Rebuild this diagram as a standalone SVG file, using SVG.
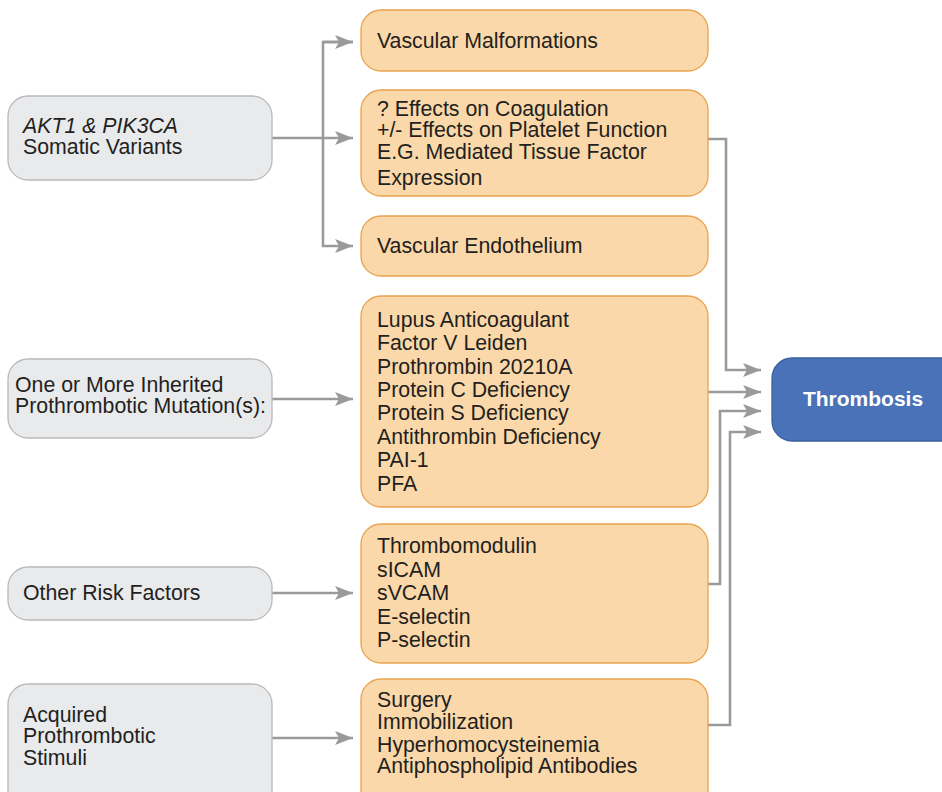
<svg xmlns="http://www.w3.org/2000/svg" width="942" height="792" viewBox="0 0 942 792">
<defs>
<style>
.g{fill:#e9eaec;stroke:#b9b9bb;stroke-width:1.3}
.o{fill:#fad8a9;stroke:#e9a24c;stroke-width:1.3}
.b{fill:#4a72b8;stroke:#39609f;stroke-width:1.3}
text{font-family:"Liberation Sans",Arial,sans-serif;font-size:21.3px;fill:#231f20}
.it{font-style:italic}
.w{fill:#fff;font-weight:bold;font-size:21px}
.c{fill:none;stroke:#999a9c;stroke-width:2.6}
</style>
<marker id="ah" markerWidth="18" markerHeight="14" viewBox="0 0 18 14" refX="18" refY="7" orient="auto" markerUnits="userSpaceOnUse">
<path d="M0,0 L18,7 L0,14 L4,7 Z" fill="#999a9c"/>
</marker>
</defs>

<g id="connectors">
<path class="c" d="M272,138 H353" marker-end="url(#ah)"/>
<path class="c" d="M353,42 H323 V246 H353" marker-end="url(#ah)"/>
<path class="c" d="M323,42 H353" marker-end="url(#ah)"/>
<path class="c" d="M272,399 H353" marker-end="url(#ah)"/>
<path class="c" d="M272,593 H353" marker-end="url(#ah)"/>
<path class="c" d="M272,738 H353" marker-end="url(#ah)"/>
<path class="c" d="M708,139 H726 V370 H761" marker-end="url(#ah)"/>
<path class="c" d="M708,392 H761" marker-end="url(#ah)"/>
<path class="c" d="M708,584 H720 V411 H761" marker-end="url(#ah)"/>
<path class="c" d="M708,725 H730 V432 H761" marker-end="url(#ah)"/>
</g>

<g id="akt1">
<rect class="g" x="8" y="96" width="264" height="84" rx="20"/>
<text x="23" y="133" class="it">AKT1 &amp; PIK3CA</text>
<text x="23" y="154">Somatic Variants</text>
</g>
<g id="inherited">
<rect class="g" x="8" y="359" width="264" height="79" rx="20"/>
<text x="15" y="392">One or More Inherited</text>
<text x="15" y="413">Prothrombotic Mutation(s):</text>
</g>
<g id="other">
<rect class="g" x="8" y="567" width="264" height="53" rx="20"/>
<text x="23" y="600">Other Risk Factors</text>
</g>
<g id="acquired">
<rect class="g" x="8" y="684" width="264" height="130" rx="20"/>
<text x="23" y="722">Acquired</text>
<text x="23" y="743">Prothrombotic</text>
<text x="23" y="765">Stimuli</text>
</g>

<g id="malformations">
<rect class="o" x="361" y="10" width="347" height="61" rx="20"/>
<text x="377" y="48">Vascular Malformations</text>
</g>
<g id="effects">
<rect class="o" x="361" y="90" width="347" height="106" rx="20"/>
<text x="377" y="116">? Effects on Coagulation</text>
<text x="377" y="137">+/- Effects on Platelet Function</text>
<text x="377" y="159">E.G. Mediated Tissue Factor</text>
<text x="377" y="185">Expression</text>
</g>
<g id="endothelium">
<rect class="o" x="361" y="216" width="347" height="60" rx="20"/>
<text x="377" y="253">Vascular Endothelium</text>
</g>
<g id="mutations">
<rect class="o" x="361" y="296" width="347" height="211" rx="20"/>
<text x="377" y="327">Lupus Anticoagulant</text>
<text x="377" y="350">Factor V Leiden</text>
<text x="377" y="374">Prothrombin 20210A</text>
<text x="377" y="397">Protein C Deficiency</text>
<text x="377" y="420">Protein S Deficiency</text>
<text x="377" y="444">Antithrombin Deficiency</text>
<text x="377" y="467">PAI-1</text>
<text x="377" y="491">PFA</text>
</g>
<g id="markers">
<rect class="o" x="361" y="524" width="347" height="139" rx="20"/>
<text x="377" y="553">Thrombomodulin</text>
<text x="377" y="577">sICAM</text>
<text x="377" y="600">sVCAM</text>
<text x="377" y="624">E-selectin</text>
<text x="377" y="647">P-selectin</text>
</g>
<g id="stimuli">
<rect class="o" x="361" y="679" width="347" height="135" rx="20"/>
<text x="377" y="707">Surgery</text>
<text x="377" y="729">Immobilization</text>
<text x="377" y="752">Hyperhomocysteinemia</text>
<text x="377" y="773">Antiphospholipid Antibodies</text>
</g>

<g id="thrombosis">
<rect class="b" x="772" y="358" width="200" height="83" rx="20"/>
<text x="863" y="406" class="w" text-anchor="middle">Thrombosis</text>
</g>
</svg>
